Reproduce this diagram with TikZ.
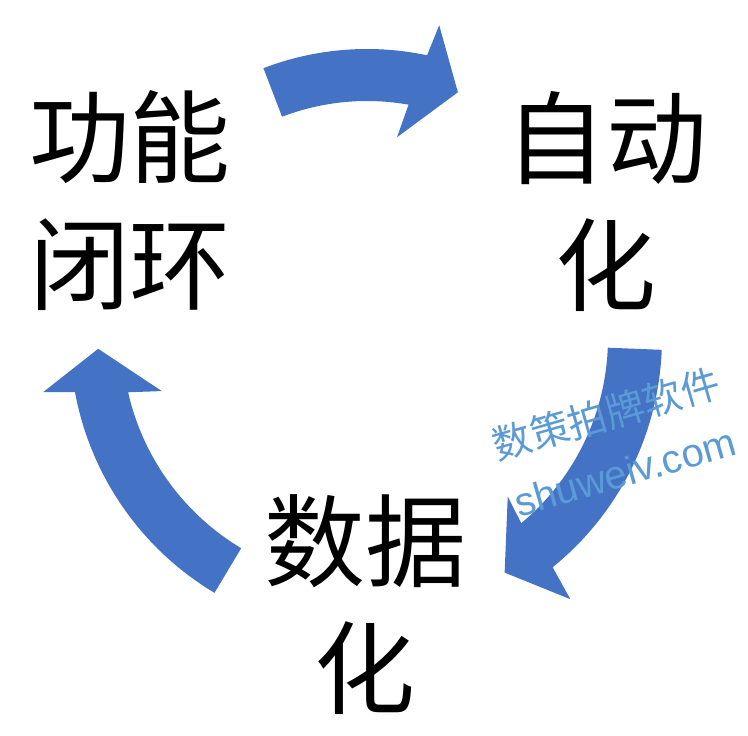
\documentclass[tikz,border=0pt]{standalone}
\usepackage{fontspec}
\newfontfamily\cjk{Noto Sans CJK SC}
\newfontfamily\wmfont{Liberation Sans}
\definecolor{arrowblue}{RGB}{68,114,196}
\definecolor{wmblue}{RGB}{91,155,213}

\tikzset{
  cyclearrow/.style={fill=arrowblue},
  stage/.style={font=\cjk\fontsize{101}{127}\selectfont, align=center, inner sep=0pt},
  watermark/.style={text=wmblue, inner sep=0pt, rotate=16},
}

\begin{document}
\begin{tikzpicture}[x=1pt, y=-1pt]
  \useasboundingbox (0,0) rectangle (748,736);
  \coordinate (c) at (367,338);

  % stages
  \node[stage] (func) at (130,201) {功能\\闭环};
  \node[stage] (auto) at (606,202) {自动\\化};
  \node[stage] (data) at (365,605) {数据\\化};

  % arrows round the cycle
  \begin{scope}[shift={(c)}]
    \fill[cyclearrow] (-111:289) arc[start angle=-111, end angle=-78, radius=289]
      -- (-77:321) -- (-69.7:262) -- (-81.5:203) -- (-79.9:237)
      arc[start angle=-79.9, end angle=-111, radius=237] -- cycle;
    \fill[cyclearrow] (2.3:295) arc[start angle=2.3, end angle=51, radius=295]
      -- (52.1:331) -- (59.6:272) -- (48.4:212) -- (50.2:241)
      arc[start angle=50.2, end angle=2.3, radius=241] -- cycle;
    \fill[cyclearrow] (120.9:297) arc[start angle=120.9, end angle=169.5, radius=297]
      -- (170.5:328.5) -- (177.7:269) -- (165.5:212) -- (167.2:245)
      arc[start angle=167.2, end angle=120.9, radius=245] -- cycle;
  \end{scope}

  % watermark
  \node[watermark, font=\cjk\fontsize{39}{39}\selectfont] (wm1) at (606,414) {数策拍牌软件};
  \node[watermark, font=\wmfont\fontsize{40}{40}\selectfont] (wm2) at (625,472) {shuweiv.com};
\end{tikzpicture}
\end{document}
